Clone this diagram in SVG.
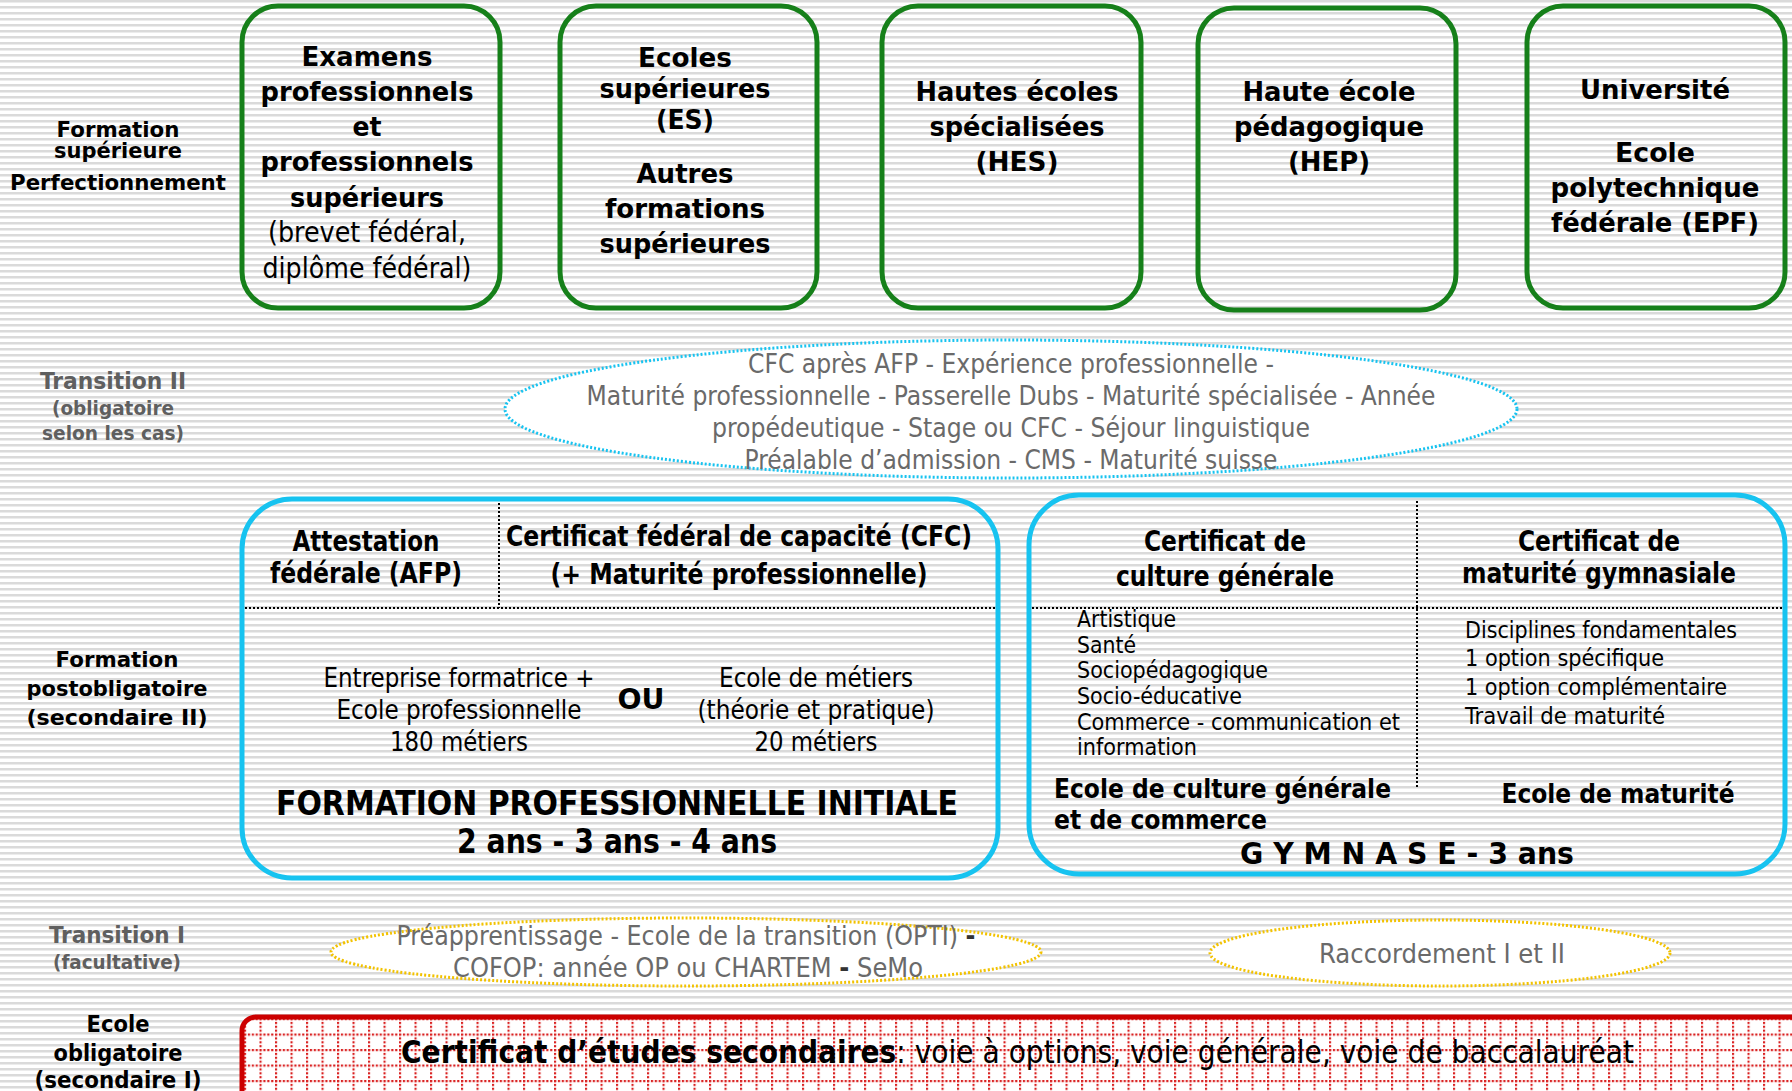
<svg xmlns="http://www.w3.org/2000/svg" width="1792" height="1091" viewBox="0 0 1792 1091">
<defs>
<pattern id="stripes" width="12" height="6" patternUnits="userSpaceOnUse">
<rect width="12" height="6" fill="#ffffff"/>
<rect y="0" width="12" height="2" fill="#dadada"/>
<rect y="2" width="12" height="1" fill="#ececec"/>
</pattern>
<pattern id="grid" x="244" y="1018" width="15.5" height="15.5" patternUnits="userSpaceOnUse">
<rect width="15.5" height="15.5" fill="#ffffff"/>
<line x1="1" y1="0" x2="1" y2="15.5" stroke="#d91f1f" stroke-width="2.2" stroke-dasharray="2.2 1.7"/>
<line x1="0" y1="1" x2="15.5" y2="1" stroke="#d91f1f" stroke-width="2.2" stroke-dasharray="2.2 1.7"/>
</pattern>
<style>
.tb{font-family:"DejaVu Sans","Liberation Sans",sans-serif;font-weight:bold;fill:#000;text-anchor:middle}
.cb{font-family:"Liberation Sans Narrow","DejaVu Sans Condensed","Liberation Sans",sans-serif;font-weight:bold;fill:#000;text-anchor:middle}
.cr{font-family:"Liberation Sans Narrow","DejaVu Sans Condensed","Liberation Sans",sans-serif;font-weight:normal;fill:#000;text-anchor:middle}
.gray{fill:#5f5f5f}
.lgray{fill:#6a6a6a}
.left{text-anchor:start}
.gbox{fill:none;stroke:#16801a;stroke-width:5}
.cbox{fill:none;stroke:#17c3f0;stroke-width:5}
.dots{stroke:#000;stroke-width:2;stroke-dasharray:2 2;fill:none}
</style>
</defs>
<rect width="1792" height="1091" fill="url(#stripes)"/>

<g id="labels">
<text class="tb" x="118" y="137" font-size="21" textLength="123" lengthAdjust="spacingAndGlyphs">Formation</text>
<text class="tb" x="118" y="158" font-size="21" textLength="128" lengthAdjust="spacingAndGlyphs">supérieure</text>
<text class="tb" x="118" y="190" font-size="21" textLength="216" lengthAdjust="spacingAndGlyphs">Perfectionnement</text>
<text class="cb gray" x="113" y="389" font-size="23" textLength="146" lengthAdjust="spacingAndGlyphs">Transition II</text>
<text class="cb gray" x="113" y="415" font-size="20" textLength="122" lengthAdjust="spacingAndGlyphs">(obligatoire</text>
<text class="cb gray" x="113" y="440" font-size="20" textLength="142" lengthAdjust="spacingAndGlyphs">selon les cas)</text>
<text class="tb" x="117" y="667" font-size="21" textLength="123" lengthAdjust="spacingAndGlyphs">Formation</text>
<text class="tb" x="117" y="696" font-size="21" textLength="181" lengthAdjust="spacingAndGlyphs">postobligatoire</text>
<text class="tb" x="117" y="725" font-size="21" textLength="181" lengthAdjust="spacingAndGlyphs">(secondaire II)</text>
<text class="cb gray" x="117" y="943" font-size="23" textLength="136" lengthAdjust="spacingAndGlyphs">Transition I</text>
<text class="cb gray" x="117" y="969" font-size="20" textLength="128" lengthAdjust="spacingAndGlyphs">(facultative)</text>
<text class="cb" x="118" y="1032" font-size="23" textLength="63" lengthAdjust="spacingAndGlyphs">Ecole</text>
<text class="cb" x="118" y="1061" font-size="23" textLength="129" lengthAdjust="spacingAndGlyphs">obligatoire</text>
<text class="cb" x="118" y="1088" font-size="23" textLength="167" lengthAdjust="spacingAndGlyphs">(secondaire I)</text>
</g>

<g id="examens">
<rect class="gbox" x="242" y="6" width="258" height="302" rx="36"/>
<text class="tb" x="367" y="66" font-size="26" textLength="131" lengthAdjust="spacingAndGlyphs">Examens</text>
<text class="tb" x="367" y="101" font-size="26" textLength="213" lengthAdjust="spacingAndGlyphs">professionnels</text>
<text class="tb" x="367" y="136" font-size="26" textLength="29" lengthAdjust="spacingAndGlyphs">et</text>
<text class="tb" x="367" y="171" font-size="26" textLength="213" lengthAdjust="spacingAndGlyphs">professionnels</text>
<text class="tb" x="367" y="207" font-size="26" textLength="154" lengthAdjust="spacingAndGlyphs">supérieurs</text>
<text class="cr" x="367" y="242" font-size="28" textLength="198" lengthAdjust="spacingAndGlyphs">(brevet fédéral,</text>
<text class="cr" x="367" y="278" font-size="28" textLength="209" lengthAdjust="spacingAndGlyphs">diplôme fédéral)</text>
</g>

<g id="ecoles-sup">
<rect class="gbox" x="560" y="6" width="257" height="302" rx="36"/>
<text class="tb" x="685" y="67" font-size="26" textLength="94" lengthAdjust="spacingAndGlyphs">Ecoles</text>
<text class="tb" x="685" y="98" font-size="26" textLength="171" lengthAdjust="spacingAndGlyphs">supérieures</text>
<text class="tb" x="685" y="129" font-size="26" textLength="58" lengthAdjust="spacingAndGlyphs">(ES)</text>
<text class="tb" x="685" y="183" font-size="26" textLength="97" lengthAdjust="spacingAndGlyphs">Autres</text>
<text class="tb" x="685" y="218" font-size="26" textLength="160" lengthAdjust="spacingAndGlyphs">formations</text>
<text class="tb" x="685" y="253" font-size="26" textLength="171" lengthAdjust="spacingAndGlyphs">supérieures</text>
</g>

<g id="hes">
<rect class="gbox" x="882" y="6" width="259" height="302" rx="36"/>
<text class="tb" x="1017" y="101" font-size="26" textLength="203" lengthAdjust="spacingAndGlyphs">Hautes écoles</text>
<text class="tb" x="1017" y="136" font-size="26" textLength="175" lengthAdjust="spacingAndGlyphs">spécialisées</text>
<text class="tb" x="1017" y="171" font-size="26" textLength="83" lengthAdjust="spacingAndGlyphs">(HES)</text>
</g>

<g id="hep">
<rect class="gbox" x="1198" y="8" width="258" height="302" rx="36"/>
<text class="tb" x="1329" y="101" font-size="26" textLength="173" lengthAdjust="spacingAndGlyphs">Haute école</text>
<text class="tb" x="1329" y="136" font-size="26" textLength="190" lengthAdjust="spacingAndGlyphs">pédagogique</text>
<text class="tb" x="1329" y="171" font-size="26" textLength="82" lengthAdjust="spacingAndGlyphs">(HEP)</text>
</g>

<g id="universite">
<rect class="gbox" x="1527" y="6" width="258" height="302" rx="36"/>
<text class="tb" x="1655" y="99" font-size="26" textLength="150" lengthAdjust="spacingAndGlyphs">Université</text>
<text class="tb" x="1655" y="162" font-size="26" textLength="80" lengthAdjust="spacingAndGlyphs">Ecole</text>
<text class="tb" x="1655" y="197" font-size="26" textLength="209" lengthAdjust="spacingAndGlyphs">polytechnique</text>
<text class="tb" x="1655" y="232" font-size="26" textLength="208" lengthAdjust="spacingAndGlyphs">fédérale (EPF)</text>
</g>

<g id="transition2">
<ellipse cx="1011" cy="409" rx="506" ry="69" fill="#ffffff" stroke="#17c3f0" stroke-width="3" stroke-dasharray="2 2"/>
<text class="cr lgray" x="1011" y="373" font-size="27" textLength="526" lengthAdjust="spacingAndGlyphs">CFC après AFP - Expérience professionnelle -</text>
<text class="cr lgray" x="1011" y="405" font-size="27" textLength="849" lengthAdjust="spacingAndGlyphs">Maturité professionnelle - Passerelle Dubs - Maturité spécialisée - Année</text>
<text class="cr lgray" x="1011" y="437" font-size="27" textLength="598" lengthAdjust="spacingAndGlyphs">propédeutique - Stage ou CFC - Séjour linguistique</text>
<text class="cr lgray" x="1011" y="469" font-size="27" textLength="533" lengthAdjust="spacingAndGlyphs">Préalable d’admission - CMS - Maturité suisse</text>
</g>

<g id="formation-pro">
<rect class="cbox" x="242" y="499" width="756" height="379" rx="50"/>
<line class="dots" x1="499" y1="503" x2="499" y2="608"/>
<line class="dots" x1="245" y1="608" x2="996" y2="608"/>
<text class="cb" x="366" y="551" font-size="28" textLength="147" lengthAdjust="spacingAndGlyphs">Attestation</text>
<text class="cb" x="366" y="583" font-size="28" textLength="192" lengthAdjust="spacingAndGlyphs">fédérale (AFP)</text>
<text class="cb" x="739" y="546" font-size="28" textLength="466" lengthAdjust="spacingAndGlyphs">Certificat fédéral de capacité (CFC)</text>
<text class="cb" x="739" y="584" font-size="28" textLength="377" lengthAdjust="spacingAndGlyphs">(+ Maturité professionnelle)</text>
<text class="cr" x="459" y="687" font-size="26" textLength="271" lengthAdjust="spacingAndGlyphs">Entreprise formatrice +</text>
<text class="cr" x="459" y="719" font-size="26" textLength="245" lengthAdjust="spacingAndGlyphs">Ecole professionnelle</text>
<text class="cr" x="459" y="751" font-size="26" textLength="138" lengthAdjust="spacingAndGlyphs">180 métiers</text>
<text class="cb" x="641" y="709" font-size="29" textLength="47" lengthAdjust="spacingAndGlyphs">OU</text>
<text class="cr" x="816" y="687" font-size="26" textLength="194" lengthAdjust="spacingAndGlyphs">Ecole de métiers</text>
<text class="cr" x="816" y="719" font-size="26" textLength="237" lengthAdjust="spacingAndGlyphs">(théorie et pratique)</text>
<text class="cr" x="816" y="751" font-size="26" textLength="123" lengthAdjust="spacingAndGlyphs">20 métiers</text>
<text class="cb" x="617" y="815" font-size="33" textLength="682" lengthAdjust="spacingAndGlyphs">FORMATION PROFESSIONNELLE INITIALE</text>
<text class="cb" x="617" y="853" font-size="33" textLength="320" lengthAdjust="spacingAndGlyphs">2 ans - 3 ans - 4 ans</text>
</g>

<g id="gymnase">
<rect class="cbox" x="1029" y="495" width="756" height="379" rx="50"/>
<line class="dots" x1="1417" y1="501" x2="1417" y2="789"/>
<line class="dots" x1="1032" y1="608" x2="1783" y2="608"/>
<text class="cb" x="1225" y="551" font-size="28" textLength="162" lengthAdjust="spacingAndGlyphs">Certificat de</text>
<text class="cb" x="1225" y="586" font-size="28" textLength="218" lengthAdjust="spacingAndGlyphs">culture générale</text>
<text class="cb" x="1599" y="551" font-size="28" textLength="162" lengthAdjust="spacingAndGlyphs">Certificat de</text>
<text class="cb" x="1599" y="583" font-size="28" textLength="274" lengthAdjust="spacingAndGlyphs">maturité gymnasiale</text>
<text class="cr left" x="1077" y="627" font-size="23" textLength="99" lengthAdjust="spacingAndGlyphs">Artistique</text>
<text class="cr left" x="1077" y="653" font-size="23" textLength="59" lengthAdjust="spacingAndGlyphs">Santé</text>
<text class="cr left" x="1077" y="678" font-size="23" textLength="191" lengthAdjust="spacingAndGlyphs">Sociopédagogique</text>
<text class="cr left" x="1077" y="704" font-size="23" textLength="165" lengthAdjust="spacingAndGlyphs">Socio-éducative</text>
<text class="cr left" x="1077" y="730" font-size="23" textLength="323" lengthAdjust="spacingAndGlyphs">Commerce - communication et</text>
<text class="cr left" x="1077" y="755" font-size="23" textLength="120" lengthAdjust="spacingAndGlyphs">information</text>
<text class="cr left" x="1465" y="638" font-size="23" textLength="272" lengthAdjust="spacingAndGlyphs">Disciplines fondamentales</text>
<text class="cr left" x="1465" y="666" font-size="23" textLength="199" lengthAdjust="spacingAndGlyphs">1 option spécifique</text>
<text class="cr left" x="1465" y="695" font-size="23" textLength="262" lengthAdjust="spacingAndGlyphs">1 option complémentaire</text>
<text class="cr left" x="1465" y="724" font-size="23" textLength="200" lengthAdjust="spacingAndGlyphs">Travail de maturité</text>
<text class="cb left" x="1054" y="798" font-size="27" textLength="337" lengthAdjust="spacingAndGlyphs">Ecole de culture générale</text>
<text class="cb left" x="1054" y="829" font-size="27" textLength="213" lengthAdjust="spacingAndGlyphs">et de commerce</text>
<text class="cb" x="1618" y="803" font-size="27" textLength="233" lengthAdjust="spacingAndGlyphs">Ecole de maturité</text>
<text class="cb" x="1407" y="864" font-size="31" textLength="334" lengthAdjust="spacingAndGlyphs">G Y M N A S E - 3 ans</text>
</g>

<g id="transition1">
<ellipse cx="686" cy="952" rx="355" ry="34" fill="#ffffff" stroke="#f2c200" stroke-width="3" stroke-dasharray="2 2"/>
<text class="cr lgray" x="686" y="945" font-size="26" textLength="579" lengthAdjust="spacingAndGlyphs">Préapprentissage - Ecole de la transition (OPTI) <tspan font-weight="bold" fill="#333">-</tspan></text>
<text class="cr lgray" x="688" y="977" font-size="26" textLength="470" lengthAdjust="spacingAndGlyphs">COFOP: année OP ou CHARTEM <tspan font-weight="bold" fill="#333">-</tspan> SeMo</text>
</g>

<g id="raccordement">
<ellipse cx="1440" cy="953" rx="230" ry="33" fill="#ffffff" stroke="#f2c200" stroke-width="3" stroke-dasharray="2 2"/>
<text class="cr lgray" x="1442" y="963" font-size="26" textLength="246" lengthAdjust="spacingAndGlyphs">Raccordement I et II</text>
</g>

<g id="ecole-obligatoire">
<rect x="242" y="1017" width="1570" height="90" rx="14" fill="url(#grid)" stroke="#cc0000" stroke-width="5"/>
<text class="cr" x="401" y="1063" font-size="32" style="text-anchor:start" textLength="1233" lengthAdjust="spacingAndGlyphs"><tspan font-weight="bold">Certificat d’études secondaires</tspan>: voie à options, voie générale, voie de baccalauréat</text>
</g>

<g id="connectors"></g>
</svg>
